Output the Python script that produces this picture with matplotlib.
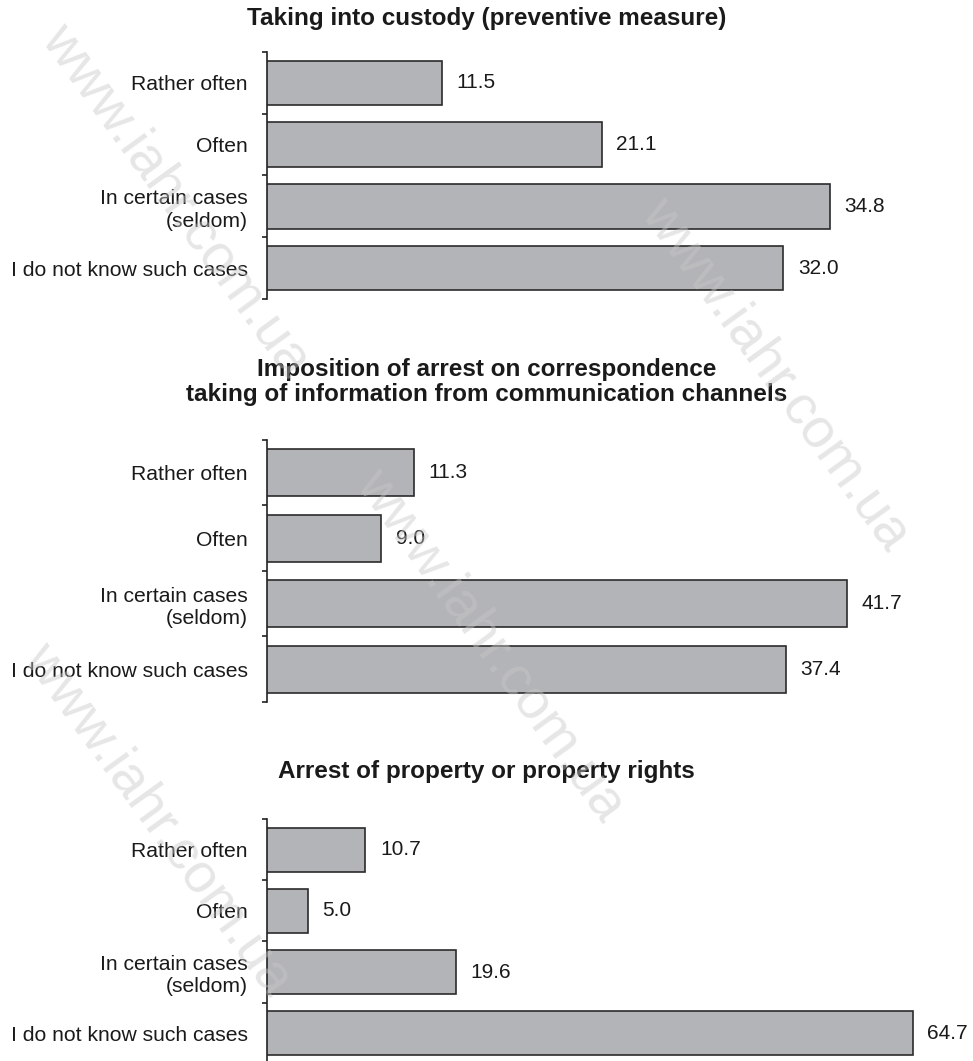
import matplotlib
matplotlib.use("Agg")
import matplotlib.pyplot as plt

plt.rcParams['font.family'] = ['Liberation Sans', 'DejaVu Sans']

# DATA
categories = ["Rather often", "Often", "In certain cases\n(seldom)", "I do not know such cases"]
custody = [11.5, 21.1, 34.8, 32.0]
correspondence = [11.3, 9.0, 41.7, 37.4]
property_arrest = [10.7, 5.0, 19.6, 64.7]
titles = ["Taking into custody (preventive measure)",
          "Imposition of arrest on correspondence\ntaking of information from communication channels",
          "Arrest of property or property rights"]
watermark = "www.iahr.com.ua"

# LAYOUT (figure fractions) and x ranges per panel
panels = [
    (custody, [0.2744, 0.7182, 0.6917, 0.2328], (1, 41.4), 0.983),
    (correspondence, [0.2744, 0.3384, 0.6917, 0.2469], (1, 48.2), 0.640),
    (property_arrest, [0.2744, -0.0028, 0.6917, 0.2309], (1, 67.4), 0.2725),
]

bar_color = '#b3b4b7'
edge_color = '#2b2b2b'

fig = plt.figure(figsize=(9.73, 10.61), dpi=100)

for (vals, rect, xlim, ty), title in zip(panels, titles):
    ax = fig.add_axes(rect)
    ax.patch.set_alpha(0)
    pos = range(len(categories))
    ax.barh(pos, vals, height=0.72, color=bar_color, edgecolor=edge_color, linewidth=1.2, zorder=2)
    for i, v in zip(pos, vals):
        ax.annotate(f"{v:.1f}", xy=(v, i), xytext=(10.5, 0), textcoords='offset points',
                    va='center', ha='left', fontsize=15, color='#1a1a1a', annotation_clip=False)
    ax.set_xlim(*xlim)
    ax.set_ylim(len(categories) - 0.5, -0.5)
    for s in ['top', 'right', 'bottom']:
        ax.spines[s].set_visible(False)
    ax.spines['left'].set_color('#222222')
    ax.spines['left'].set_linewidth(1.2)
    ax.set_xticks([])
    ax.set_yticks([i - 0.5 for i in range(len(categories) + 1)])
    ax.set_yticklabels([])
    ax.set_yticks(list(pos), labels=categories, minor=True)
    ax.tick_params(axis='y', which='major', length=3.8, width=1.2, color='#222222')
    ax.tick_params(axis='y', which='minor', length=0, pad=14, labelsize=15.2, labelcolor='#1a1a1a')
    for lab in ax.get_yticklabels(minor=True):
        lab.set_linespacing(1.22)
    fig.text(0.5, ty, title, ha='center', va='center', fontsize=17.5, fontweight='bold',
             color='#1a1a1a', linespacing=1.08)

# faint diagonal watermark over everything
wm_pos = [(0.180, 0.811), (0.797, 0.647), (0.504, 0.392), (0.162, 0.228)]
for x, y in wm_pos:
    fig.text(x, y, watermark, rotation=-54, fontsize=40, color='#c8c8c8', alpha=0.45,
             ha='center', va='center', rotation_mode='anchor', zorder=10)

fig.savefig("out.png", dpi=100)
